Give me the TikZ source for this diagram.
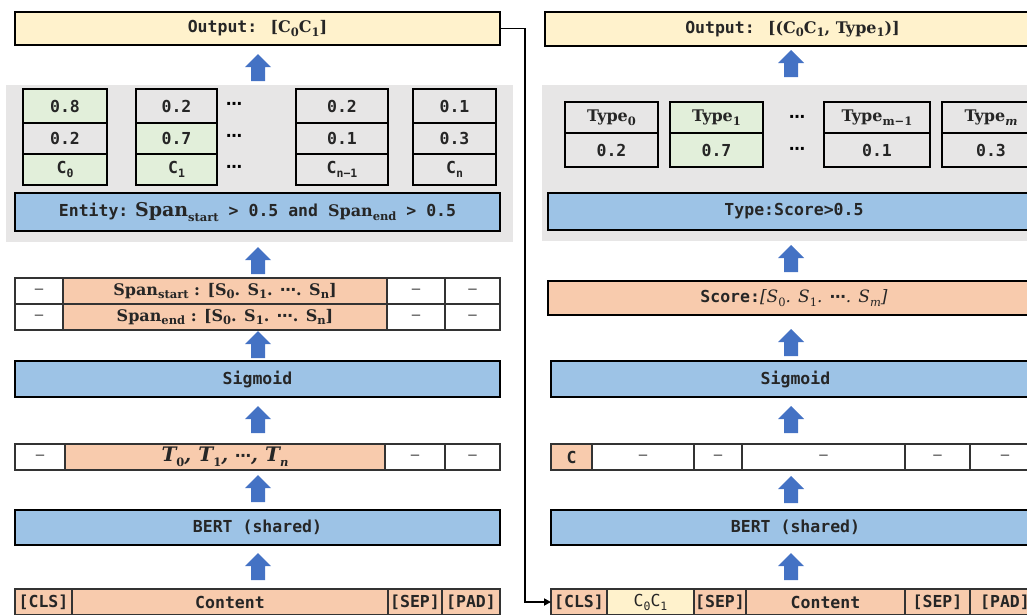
\documentclass[tikz,border=0pt]{standalone}
\usepackage{fontspec}
\setmainfont{DejaVu Sans Mono}
\newfontfamily\cam{DejaVu Serif}
\newfontfamily\dv{DejaVu Sans}
\usetikzlibrary{arrows.meta}

\definecolor{yellowbg}{HTML}{FFF2CC}
\definecolor{bluebox}{HTML}{9DC3E6}
\definecolor{orangebg}{HTML}{F8CBAD}
\definecolor{greenbg}{HTML}{E2EFDA}
\definecolor{graypanel}{HTML}{E7E6E6}
\definecolor{arrowblue}{HTML}{4472C4}

\newcommand{\mono}{\bfseries\fontsize{16.5}{18}\selectfont}
\newcommand{\sr}{\cam\bfseries\fontsize{16}{18}\selectfont}
\newcommand{\dts}{{\dv\bfseries\fontsize{16}{16}\selectfont ⋯}}
\newcommand{\sbs}[1]{\raisebox{-0.45ex}{\fontsize{11.5}{12}\selectfont #1}}

% cell from corner (x1,y1) to (x2,y2)
\newcommand{\cella}[7]{%
  \node[#6, minimum width={(#4-(#2))*1pt}, minimum height={(#5-(#3))*1pt}]
    (#1) at ({(#2+#4)/2},{(#3+#5)/2}) {#7};}
% blue block arrow, tip at (x,y)
\newcommand{\upa}[2]{%
  \fill[arrowblue] (#1-7,#2+27) -- (#1-7,#2+13) -- (#1-13,#2+13) -- (#1,#2)
    -- (#1+13,#2+13) -- (#1+7,#2+13) -- (#1+7,#2+27) -- cycle;}

\tikzset{
  box/.style={draw=black, line width=1.4pt, inner sep=0pt, outer sep=0pt,
    text=black!85, font=\mono},
  cell/.style={draw=black!80, line width=1.1pt, inner sep=0pt, outer sep=0pt,
    text=black!85, font=\mono},
  dash cell/.style={cell, font=\fontsize{14}{16}\selectfont},
}

\begin{document}
\begin{tikzpicture}[x=1pt,y=-1pt]
\useasboundingbox (0,0) rectangle (1027,614);
\clip (0,0) rectangle (1027,614);

% ---- left: entity extraction ----
\cella{outL}{15}{12}{500}{45}{box, fill=yellowbg}{Output: {\sr[C\sbs{0}C\sbs{1}]}}
\fill[graypanel] (6,85) rectangle (513,242);
\cella{a1}{23}{89}{107}{123}{box, fill=greenbg}{0.8}
\cella{a2}{23}{123}{107}{154}{box}{0.2}
\cella{a3}{23}{154}{107}{185}{box, fill=greenbg}{C\sbs{0}}
\cella{b1}{136}{89}{217}{123}{box}{0.2}
\cella{b2}{136}{123}{217}{154}{box, fill=greenbg}{0.7}
\cella{b3}{136}{154}{217}{185}{box, fill=greenbg}{C\sbs{1}}
\foreach \y [count=\i] in {106,138,169}
  \node (dL\i) at (234,\y) {\dts};
\cella{c1}{296}{89}{388}{123}{box}{0.2}
\cella{c2}{296}{123}{388}{154}{box}{0.1}
\cella{c3}{296}{154}{388}{185}{box}{C\sbs{n−1}}
\cella{d1}{413}{89}{496}{123}{box}{0.1}
\cella{d2}{413}{123}{496}{154}{box}{0.3}
\cella{d3}{413}{154}{496}{185}{box}{C\sbs{n}}
\cella{ent}{15}{193}{500}{231}{box, fill=bluebox}{Entity:{\cam\fontsize{19}{20}\selectfont\ Span\sbs{start}} > 0.5 and {\sr Span\sbs{end}} > 0.5}

% span rows
\cella{sa0}{15}{278}{63}{304}{dash cell}{–}
\cella{sa1}{63}{278}{387}{304}{cell, fill=orangebg}{\sr Span\sbs{start} : [S\sbs{0}. S\sbs{1}. \dts. S\sbs{n}]}
\cella{sa2}{387}{278}{445}{304}{dash cell}{–}
\cella{sa3}{445}{278}{500}{304}{dash cell}{–}
\cella{sb0}{15}{304}{63}{330}{dash cell}{–}
\cella{sb1}{63}{304}{387}{330}{cell, fill=orangebg}{\sr Span\sbs{end} : [S\sbs{0}. S\sbs{1}. \dts. S\sbs{n}]}
\cella{sb2}{387}{304}{445}{330}{dash cell}{–}
\cella{sb3}{445}{304}{500}{330}{dash cell}{–}

\cella{sigL}{15}{361}{500}{397}{box, fill=bluebox}{Sigmoid}

\cella{t0}{15}{444}{65}{470}{dash cell}{–}
\cella{t1}{65}{444}{385}{470}{cell, fill=orangebg}{\cam\bfseries\itshape\fontsize{20}{20}\selectfont T\sbs{\upshape 0}, T\sbs{\upshape 1}, \dts, T\sbs{n}}
\cella{t2}{385}{444}{445}{470}{dash cell}{–}
\cella{t3}{445}{444}{500}{470}{dash cell}{–}

\cella{bertL}{15}{510}{500}{545}{box, fill=bluebox}{BERT (shared)}

\cella{inL0}{15}{589}{72}{615}{cell, fill=orangebg}{[CLS]}
\cella{inL1}{72}{589}{388}{615}{cell, fill=orangebg}{Content}
\cella{inL2}{388}{589}{442}{615}{cell, fill=orangebg}{[SEP]}
\cella{inL3}{442}{589}{500}{615}{cell, fill=orangebg}{[PAD]}

\foreach \t in {54,247,331,406,475,553}
  {\upa{258}{\t}}

% ---- right: type classification ----
\cella{outR}{545}{12}{1040}{46}{box, fill=yellowbg}{Output: {\sr[(C\sbs{0}C\sbs{1}, Type\sbs{1})]}\hspace{13pt}}
\fill[graypanel] (542,85) rectangle (1027,241);
\cella{ty0}{565}{102}{658}{133}{box}{\sr Type\sbs{0}}
\cella{v0}{565}{133}{658}{167}{box}{0.2}
\cella{ty1}{670}{102}{763}{133}{box, fill=greenbg}{\sr Type\sbs{1}}
\cella{v1}{670}{133}{763}{167}{box, fill=greenbg}{0.7}
\node (dR1) at (797,119) {\dts};
\node (dR2) at (797,151) {\dts};
\cella{ty2}{824}{102}{930}{133}{box}{\sr Type\sbs{m−1}}
\cella{v2}{824}{133}{930}{167}{box}{0.1}
\cella{ty3}{942}{102}{1040}{133}{box}{\sr Type\sbs{\itshape m}\hspace{12pt}}
\cella{v3}{942}{133}{1040}{167}{box}{0.3\hspace{12pt}}
\cella{typ}{548}{193}{1040}{230}{box, fill=bluebox}{Type:Score>0.5\hspace{13pt}}

\cella{score}{548}{281}{1040}{315}{box, fill=orangebg}{Score:{\cam\mdseries\itshape\fontsize{17}{18}\selectfont[S\sbs{\upshape 0}. S\sbs{\upshape 1}. \dts. S\sbs{m}]}\hspace{13pt}}
\cella{sigR}{551}{361}{1040}{397}{box, fill=bluebox}{Sigmoid\hspace{13pt}}

\cella{cR0}{551}{444}{592}{470}{cell, fill=orangebg}{C}
\foreach \a/\b [count=\i] in {592/694,694/742,742/905,905/970,970/1040}
  {\cella{cR\i}{\a}{444}{\b}{470}{dash cell}{–}}

\cella{bertR}{551}{510}{1040}{545}{box, fill=bluebox}{BERT (shared)\hspace{13pt}}

\cella{inR0}{551}{589}{607}{615}{cell, fill=orangebg}{[CLS]}
\cella{inR1}{607}{589}{694}{615}{cell, fill=yellowbg}{\mdseries C\sbs{0}C\sbs{1}}
\cella{inR2}{694}{589}{746}{615}{cell, fill=orangebg}{[SEP]}
\cella{inR3}{746}{589}{905}{615}{cell, fill=orangebg}{Content}
\cella{inR4}{905}{589}{970}{615}{cell, fill=orangebg}{[SEP]}
\cella{inR5}{970}{589}{1040}{615}{cell, fill=orangebg}{[PAD]\hspace{16pt}}

\foreach \t in {50,245,329,406,476,553}
  {\upa{791}{\t}}

% feedback line
\coordinate (turn) at (525,0);
\draw[line width=1.8pt, -{Triangle[length=7pt,width=7pt]}]
  (outL.east) -- (outL.east -| turn) -- (inR0.west -| turn) -- (inR0.west);
\end{tikzpicture}
\end{document}
